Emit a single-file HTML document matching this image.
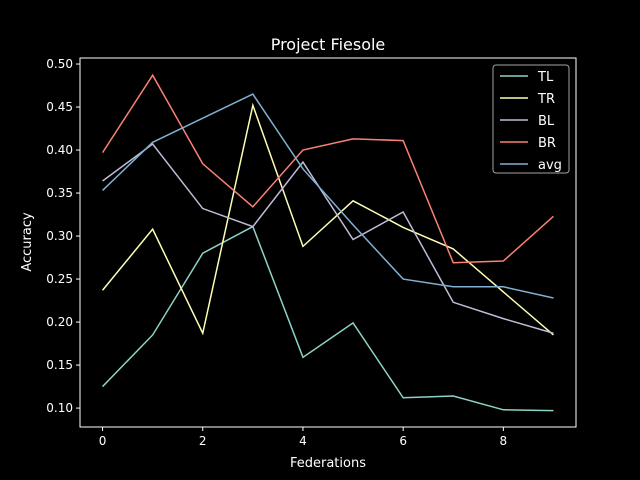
<!DOCTYPE html>
<html><head><meta charset="utf-8"><style>
html,body{margin:0;padding:0;background:#000;overflow:hidden;width:640px;height:480px;}
svg{display:block;}
svg text{font-family:"DejaVu Sans","Liberation Sans",sans-serif;fill:#fff;}
</style></head><body>
<svg id="chart" width="640" height="480" xmlns="http://www.w3.org/2000/svg">
<rect width="640" height="480" fill="#000"/>
<text x="328" y="50" font-size="16" text-anchor="middle">Project Fiesole</text>
<g id="axes"></g>
<g id="series"></g>
<g id="legend"></g>
<text x="328" y="467" font-size="13" text-anchor="middle">Federations</text>
<text transform="translate(31,242) rotate(-90)" font-size="13" text-anchor="middle">Accuracy</text>
</svg>
<script>
const xs=[0,1,2,3,4,5,6,7,8,9];
const seriesNames=["TL","TR","BL","BR","avg"];
const TL=[0.125,0.185,0.280,0.311,0.159,0.199,0.112,0.114,0.098,0.097];
const TR=[0.237,0.308,0.187,0.452,0.288,0.341,0.310,0.285,0.235,0.185];
const BL=[0.364,0.407,0.332,0.311,0.386,0.296,0.328,0.223,0.204,0.187];
const BR=[0.397,0.487,0.384,0.334,0.400,0.413,0.411,0.269,0.271,0.323];
const AVG=[0.353,0.409,0.437,0.465,0.378,0.313,0.250,0.241,0.241,0.228];
const xTicks=[0,2,4,6,8];
const yTicks=[0.10,0.15,0.20,0.25,0.30,0.35,0.40,0.45,0.50];
const colors=["#8dd3c7","#feffb3","#bfbbd9","#fa8174","#81b1d2"];
const L=80,R=576,T=58,B=427;
const xmin=-0.45,xmax=9.45,ymin=0.078,ymax=0.507;
const X=v=>L+(v-xmin)/(xmax-xmin)*(R-L);
const Y=v=>B-(v-ymin)/(ymax-ymin)*(B-T);
const NS="http://www.w3.org/2000/svg";
function mk(tag,attrs,parent){const e=document.createElementNS(NS,tag);for(const k in attrs)e.setAttribute(k,attrs[k]);parent.appendChild(e);return e;}
const axes=document.getElementById('axes');
const frame=mk('rect',{x:L,y:T,width:R-L,height:B-T,fill:'none',stroke:'#fff','stroke-width':1},axes);


xTicks.forEach(t=>{
  const ln=mk('line',{x1:X(t),x2:X(t),y1:B,y2:B+4,stroke:'#fff'},axes);
  
  
  const tx=mk('text',{x:X(t),y:B+18,'font-size':12,'text-anchor':'middle'},axes);
  tx.textContent=t;
  
  
});
yTicks.forEach(t=>{
  const ln=mk('line',{x1:L-4,x2:L,y1:Y(t),y2:Y(t),stroke:'#fff'},axes);
  
  
  const tx=mk('text',{x:L-7,y:Y(t)+4,'font-size':12,'text-anchor':'end'},axes);
  tx.textContent=t.toFixed(2);
  
  
});
const data=[TL,TR,BL,BR,AVG];
const sg=document.getElementById('series');
data.forEach((d,i)=>{
  const p=mk('polyline',{points:d.map((v,j)=>X(xs[j])+','+Y(v)).join(' '),fill:'none',stroke:colors[i],'stroke-width':1.5},sg);
  
  
});
const lg=document.getElementById('legend');
const box=mk('rect',{x:493,y:65,width:76,height:108,rx:3,fill:'#000',stroke:'#ccc','stroke-opacity':0.8},lg);


seriesNames.forEach((n,i)=>{
  const y=76+i*22;
  const ln=mk('line',{x1:500,x2:528,y1:y,y2:y,stroke:colors[i],'stroke-width':1.5},lg);
  
  
  const tx=mk('text',{x:538,y:y+5,'font-size':13},lg);
  tx.textContent=n;
  
  
});
</script>
</body></html>
